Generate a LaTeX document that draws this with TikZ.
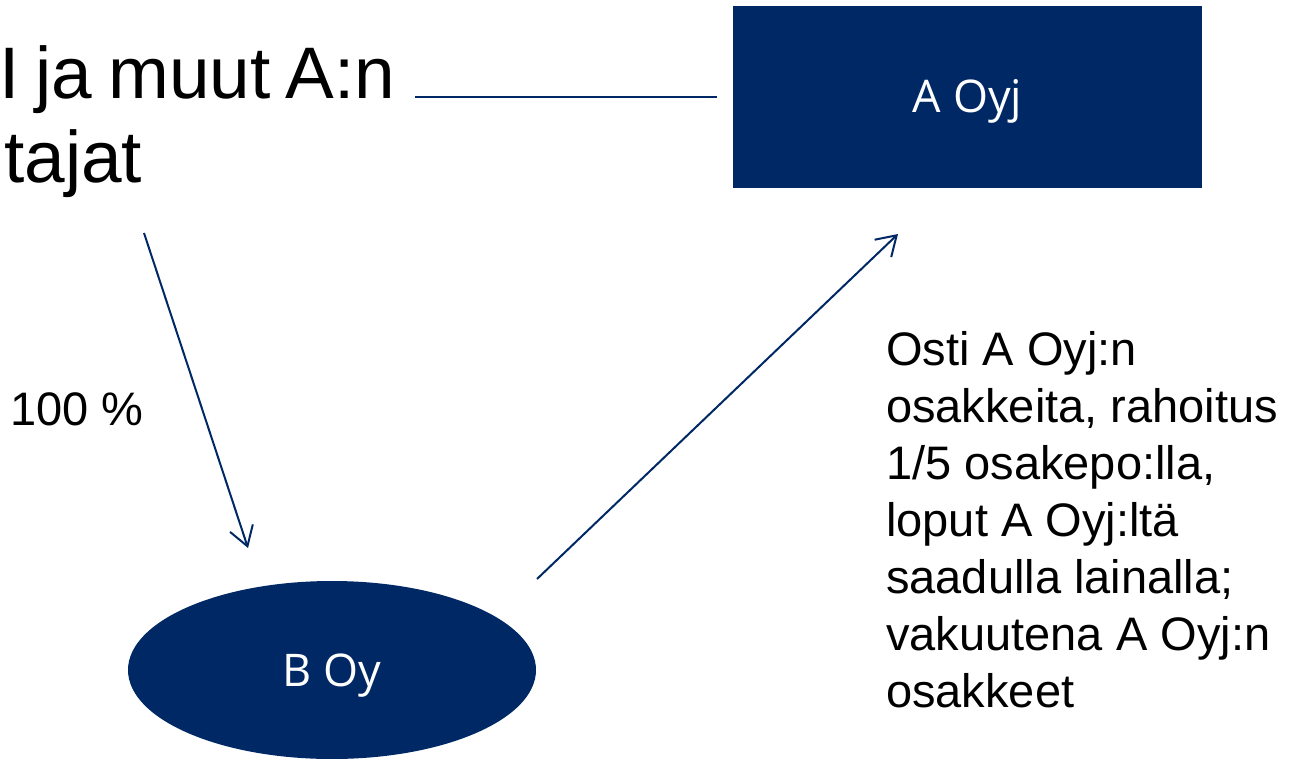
\documentclass[tikz,border=0pt]{standalone}
\usepackage{fontspec}
\setmainfont{Liberation Sans}
\newfontfamily\boxfont{Open Sans}
\usetikzlibrary{arrows.meta,shapes.geometric}
\definecolor{navy}{RGB}{0,40,100}

\begin{document}
\begin{tikzpicture}[x=1pt,y=-1pt,
  link/.style={draw=navy, line width=2pt},
  arrowlink/.style={link, -{Straight Barb[length=19pt,width=24pt]}},
  entity/.style={fill=navy, text=white, font=\boxfont\fontsize{45}{54}\selectfont,
    inner sep=0pt, text height=32pt, text depth=0pt},
  note/.style={font=\fontsize{47}{57}\selectfont, inner sep=0pt, align=left, text=black},
  owners/.style={font=\fontsize{73}{84}\selectfont, inner sep=0pt, align=left, text=black},
]
\path[use as bounding box] (0,0) rectangle (1292,759);
\begin{scope}
  \clip (0,0) rectangle (1292,759);

  % entities
  \node[entity, rectangle, minimum width=469pt, minimum height=182pt] (A) at (967.5,97) {A Oyj};
  \node[entity, ellipse, minimum width=408pt, minimum height=178pt] (B) at (332,670) {B Oy};

  % owners of A (text runs past the left edge); base = last line
  \node[owners, anchor=base west] (own) at (-5,183)
    {\hspace*{4pt}I\hspace{16pt}ja\hspace{16pt}muut\hspace{15pt}A:n\\\hspace*{9pt}tajat};

  % labels
  \node[note, anchor=base west] (pct) at (10,425) {100 \%};
  \node[note, anchor=base west] (deal) at (886,707) {Osti A Oyj:n\\
    osakkeita, rahoitus\\
    1/5 osakepo:lla,\\
    loput A Oyj:ltä\\
    saadulla lainalla;\\
    vakuutena A Oyj:n\\
    osakkeet};

  % connectors
  \coordinate (h1) at (415,97);
  \draw[link, shorten >=16pt] (h1) -- (A.west);

  \coordinate (d1) at (144,233);
  \coordinate (d2) at (248,548);
  \draw[arrowlink] (d1) -- (d2);

  \coordinate (u1) at (537,579);
  \coordinate (u2) at (898,234);
  \draw[arrowlink] (u1) -- (u2);
\end{scope}
\end{tikzpicture}
\end{document}
